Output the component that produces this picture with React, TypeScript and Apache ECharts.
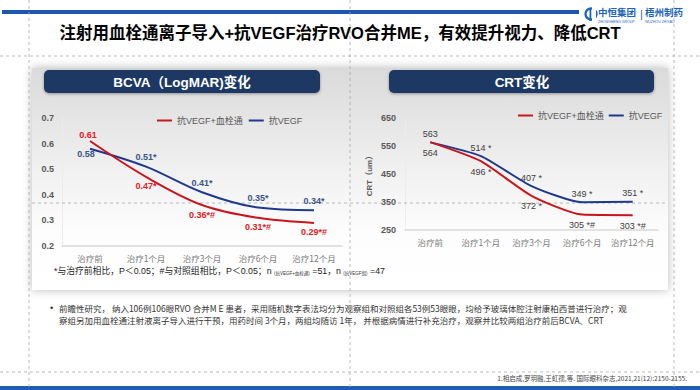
import React, { useEffect, useRef } from 'react';
import * as echarts from 'echarts';

const categories = ['治疗前', '治疗1个月', '治疗3个月', '治疗6个月', '治疗12个月'];
const seriesNames = ['抗VEGF+血栓通', '抗VEGF'];

const bcvaCombo = [0.61, 0.47, 0.36, 0.31, 0.29];
const bcvaComboLabels = ['0.61', '0.47*', '0.36*#', '0.31*#', '0.29*#'];
const bcvaCtrl = [0.58, 0.51, 0.41, 0.35, 0.34];
const bcvaCtrlLabels = ['0.58', '0.51*', '0.41*', '0.35*', '0.34*'];

const crtCombo = [564, 496, 372, 305, 303];
const crtComboLabels = ['564', '496 *', '372 *', '305 *#', '303 *#'];
const crtCtrl = [563, 514, 407, 349, 351];
const crtCtrlLabels = ['563', '514 *', '407 *', '349 *', '351 *'];

const bcvaAxis = { min: 0.2, max: 0.7, interval: 0.1 };
const crtAxis = { min: 250, max: 650, interval: 100 };

const titleText = '注射用血栓通离子导入+抗VEGF治疗RVO合并ME，有效提升视力、降低CRT';
const leftHeader = 'BCVA（LogMAR)变化';
const rightHeader = 'CRT变化';
const crtAxisName = 'CRT（um）';
const noteLine1 = '前瞻性研究， 纳入106例106眼RVO 合并M E 患者，采用随机数字表法均分为观察组和对照组各53例53眼眼，均给予玻璃体腔注射康柏西普进行治疗；观';
const noteLine2 = '察组另加用血栓通注射液离子导入进行干预，用药时间 3个月，两组均随访 1年， 并根据病情进行补充治疗，观察并比较两组治疗前后BCVA、CRT';
const reference = '1.相启成,罗玥融,王虹孺,等. 国际眼科杂志,2021,21(12):2150-2155.';

const FONT = "'Liberation Sans', 'Noto Sans CJK SC', sans-serif";
const CJK = "'Noto Sans CJK SC', 'Liberation Sans', sans-serif";
const RED = '#c8161d';
const RED_LABEL = '#e0201e';
const BLUE = '#1f3a8a';
const BLUE_LABEL = '#3a5688';
const NAVY = '#1f3864';

function App() {
  const ref = useRef<HTMLDivElement>(null);

  useEffect(() => {
    const chart = echarts.init(ref.current as HTMLDivElement, null, { renderer: 'svg' });

    const dash = (x1: number, y1: number, x2: number, y2: number) => ({
      type: 'line',
      z: 1,
      silent: true,
      shape: { x1, y1, x2, y2 },
      style: { stroke: '#a8a8a8', lineWidth: 0.8, lineDash: [3, 3] },
    });

    const panelFill = new echarts.graphic.LinearGradient(0, 0, 0, 1, [
      { offset: 0, color: '#dadada' },
      { offset: 0.45, color: '#f0f0f0' },
      { offset: 0.75, color: '#fdfdfd' },
      { offset: 1, color: '#ffffff' },
    ]);

    const graphics: any[] = [
      { type: 'rect', z: 0, shape: { x: 2, y: 10, width: 577, height: 4 }, style: { fill: '#1b58ad' } },
      { type: 'rect', z: 0, shape: { x: 0, y: 386, width: 700, height: 4 }, style: { fill: '#1e5cb6' } },
      {
        type: 'rect', z: -1,
        shape: { x: 32, y: 68, width: 636, height: 222 },
        style: { fill: panelFill, shadowBlur: 10, shadowColor: 'rgba(0,0,0,0.28)' },
      },
      {
        type: 'rect', z: 1,
        shape: { x: 44, y: 70, width: 276, height: 23, r: 5 },
        style: { fill: NAVY, shadowBlur: 3, shadowOffsetY: 1, shadowColor: 'rgba(0,0,0,0.35)' },
      },
      {
        type: 'rect', z: 1,
        shape: { x: 389, y: 70, width: 265, height: 23, r: 5 },
        style: { fill: NAVY, shadowBlur: 3, shadowOffsetY: 1, shadowColor: 'rgba(0,0,0,0.35)' },
      },
      {
        type: 'text', z: 2, x: 182, y: 82,
        style: { text: leftHeader, fill: '#ffffff', fontSize: 13.5, fontWeight: 'bold', fontFamily: FONT, textAlign: 'center', textVerticalAlign: 'middle' },
      },
      {
        type: 'text', z: 2, x: 522, y: 82,
        style: { text: rightHeader, fill: '#ffffff', fontSize: 13.5, fontWeight: 'bold', fontFamily: FONT, textAlign: 'center', textVerticalAlign: 'middle' },
      },
      {
        type: 'text', z: 2, x: 340, y: 33,
        style: { text: titleText, fill: '#000000', fontSize: 16.5, fontWeight: 'bold', fontFamily: FONT, textAlign: 'center', textVerticalAlign: 'middle' },
      },
      {
        type: 'text', z: 2, x: 54, y: 271,
        style: {
          text: '*与治疗前相比，P＜0.05；#与对照组相比，P＜0.05；n {s|(抗VEGF+血栓通)} =51，n {s|(抗VEGF组)} =47',
          fill: '#1a1a1a', fontSize: 8.8, fontFamily: FONT, textVerticalAlign: 'middle',
          rich: { s: { fontSize: 4.5, fill: '#333', fontFamily: FONT, verticalAlign: 'bottom', padding: [4, 0, 0, 0] } },
        },
      },
      {
        type: 'text', z: 2, x: 50, y: 308,
        style: { text: '•', fill: '#333', fontSize: 9, fontFamily: FONT, textVerticalAlign: 'middle' },
      },
      {
        type: 'text', z: 2, x: 59, y: 308,
        style: { text: noteLine1, fill: '#333333', fontSize: 8.5, fontFamily: CJK, textVerticalAlign: 'middle' },
      },
      {
        type: 'text', z: 2, x: 59, y: 320,
        style: { text: noteLine2, fill: '#333333', fontSize: 8.5, fontFamily: CJK, textVerticalAlign: 'middle' },
      },
      {
        type: 'text', z: 2, x: 687, y: 378,
        style: { text: reference, fill: '#444444', fontSize: 6.5, fontFamily: CJK, textAlign: 'right', textVerticalAlign: 'middle' },
      },
      // logo
      {
        type: 'circle', z: 2, shape: { cx: 591, cy: 14, r: 5.5 },
        style: { fill: 'none', stroke: '#1b64b8', lineWidth: 2.2 },
      },
      {
        type: 'rect', z: 3, shape: { x: 592, y: 7, width: 4, height: 14 },
        style: { fill: '#ffffff' },
      },
      {
        type: 'rect', z: 4, shape: { x: 589.5, y: 8, width: 1.8, height: 13 },
        style: { fill: '#1b64b8' },
      },
      {
        type: 'text', z: 2, x: 598, y: 11.5,
        style: { text: '中恒集团', fill: '#1b64b8', fontSize: 9.5, fontWeight: 'bold', fontFamily: CJK, textVerticalAlign: 'middle' },
      },
      {
        type: 'text', z: 2, x: 640, y: 14,
        style: { text: '|', fill: '#1b64b8', fontSize: 11, fontFamily: FONT, textVerticalAlign: 'middle' },
      },
      {
        type: 'text', z: 2, x: 645, y: 11.5,
        style: { text: '梧州制药', fill: '#1b64b8', fontSize: 9.5, fontWeight: 'bold', fontFamily: CJK, textVerticalAlign: 'middle' },
      },
      {
        type: 'text', z: 2, x: 598, y: 21.5,
        style: { text: 'ZHONGHENG GROUP', fill: '#1b64b8', fontSize: 3.5, fontFamily: FONT, textVerticalAlign: 'middle' },
      },
      {
        type: 'text', z: 2, x: 645, y: 21.5,
        style: { text: 'WUZHOU ZHIYAO', fill: '#1b64b8', fontSize: 3.5, fontFamily: FONT, textVerticalAlign: 'middle' },
      },
      dash(29, 0, 29, 390),
      dash(350, 0, 350, 390),
      dash(674, 0, 674, 390),
      dash(0, 56, 700, 56),
      dash(0, 372, 700, 372),
      dash(32, 203, 668, 203),
    ];

    const xAxisCommon = {
      type: 'category',
      data: categories,
      axisTick: { show: false },
      axisLine: { lineStyle: { color: '#d9d9d9', width: 1.5 } },
      axisLabel: { color: '#7a7a7a', fontSize: 8.5, fontFamily: CJK, margin: 8, interval: 0 },
    };

    const yAxisCommon = {
      type: 'value',
      splitLine: { show: false },
      axisTick: { show: false },
      axisLine: { show: true, lineStyle: { color: '#ececec', width: 1 } },
    };

    const labelBase = { show: true, fontFamily: FONT, fontSize: 9 };

    const option: any = {
      animation: false,
      textStyle: { fontFamily: FONT },
      grid: [
        { left: 62, top: 118, width: 280, height: 128 },
        { left: 405, top: 118, width: 253, height: 112 },
      ],
      legend: [
        {
          data: seriesNames, left: 157, top: 116, padding: 0, icon: 'rect',
          itemWidth: 15, itemHeight: 2, itemGap: 6,
          textStyle: { fontSize: 9, color: '#595959', fontFamily: FONT },
        },
        {
          data: seriesNames, left: 518, top: 111, padding: 0, icon: 'rect',
          itemWidth: 15, itemHeight: 2, itemGap: 5,
          textStyle: { fontSize: 9, color: '#595959', fontFamily: FONT },
        },
      ],
      xAxis: [
        { ...xAxisCommon, gridIndex: 0 },
        { ...xAxisCommon, gridIndex: 1 },
      ],
      yAxis: [
        {
          ...yAxisCommon, gridIndex: 0, ...bcvaAxis,
          axisLabel: { color: '#595959', fontSize: 9, fontWeight: 'bold', margin: 8, formatter: (v: number) => v.toFixed(1) },
        },
        {
          ...yAxisCommon, gridIndex: 1, ...crtAxis,
          name: crtAxisName, nameLocation: 'middle', nameGap: 32, nameRotate: 90,
          nameTextStyle: { color: '#595959', fontSize: 8, fontWeight: 'bold', fontFamily: FONT },
          axisLabel: { color: '#595959', fontSize: 9, fontWeight: 'bold', margin: 9 },
        },
      ],
      series: [
        {
          name: seriesNames[0], type: 'line', xAxisIndex: 0, yAxisIndex: 0,
          smooth: 0.35, symbol: 'circle', symbolSize: 0, z: 4,
          lineStyle: { color: RED, width: 2 }, itemStyle: { color: RED },
          data: bcvaCombo.map((v, i) => (i === 0 ? { value: v, label: { position: 'top', offset: [-2, 3] } } : v)),
          label: {
            ...labelBase, position: 'bottom', distance: 5, color: RED_LABEL, fontWeight: 'bold',
            formatter: (p: any) => bcvaComboLabels[p.dataIndex],
          },
        },
        {
          name: seriesNames[1], type: 'line', xAxisIndex: 0, yAxisIndex: 0,
          smooth: 0.35, symbol: 'circle', symbolSize: 0, z: 3,
          lineStyle: { color: BLUE, width: 2 }, itemStyle: { color: BLUE },
          data: bcvaCtrl.map((v, i) => (i === 0 ? { value: v, label: { offset: [-4, 15] } } : v)),
          label: {
            ...labelBase, position: 'top', distance: 5, color: BLUE_LABEL, fontWeight: 'bold',
            formatter: (p: any) => bcvaCtrlLabels[p.dataIndex],
          },
        },
        {
          name: seriesNames[0], type: 'line', xAxisIndex: 1, yAxisIndex: 1,
          smooth: 0.2, symbol: 'circle', symbolSize: 0, z: 4,
          lineStyle: { color: RED, width: 2 }, itemStyle: { color: RED },
          data: crtCombo,
          label: {
            ...labelBase, position: 'bottom', distance: 6, color: '#404040',
            formatter: (p: any) => crtComboLabels[p.dataIndex],
          },
        },
        {
          name: seriesNames[1], type: 'line', xAxisIndex: 1, yAxisIndex: 1,
          smooth: 0.2, symbol: 'circle', symbolSize: 0, z: 3,
          lineStyle: { color: BLUE, width: 2 }, itemStyle: { color: BLUE },
          data: crtCtrl,
          label: {
            ...labelBase, position: 'top', distance: 4, color: '#404040',
            formatter: (p: any) => crtCtrlLabels[p.dataIndex],
          },
        },
      ],
      graphic: { elements: graphics },
    };

    chart.setOption(option);
    return () => chart.dispose();
  }, []);

  return (
    <div
      ref={ref}
      style={{ position: 'fixed', left: 0, top: 0, width: 700, height: 390, background: '#ffffff' }}
    />
  );
}

export default App;
